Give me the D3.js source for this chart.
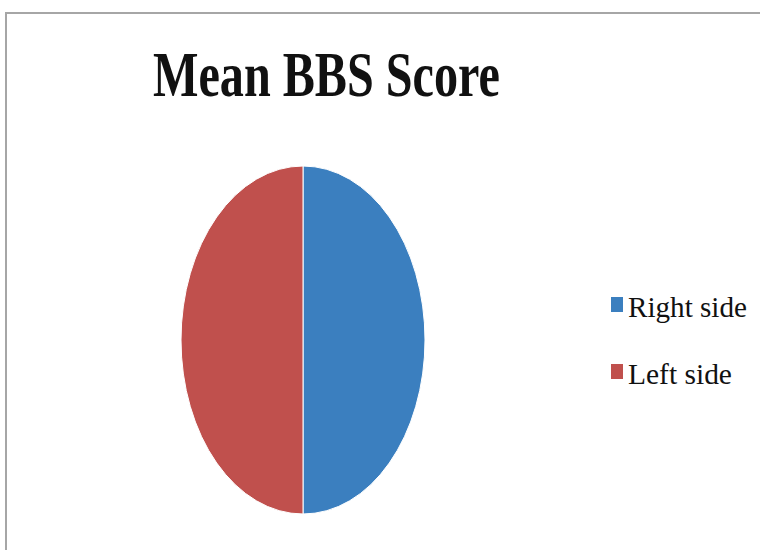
<!DOCTYPE html>
<html>
<head>
<meta charset="utf-8">
<script src="https://cdn.jsdelivr.net/npm/d3@7/dist/d3.min.js"></script>
<style>
  html, body { margin: 0; padding: 0; background: #fff; }
  svg { display: block; }
</style>
</head>
<body>
<svg id="chart" width="760" height="550"></svg>
<script>
// Mean Berg Balance Scale score, split by side
const categories = ["Right side", "Left side"];
const values = [50, 50];
const colors = ["#3b7fbf", "#c0504d"];
const titleText = "Mean BBS Score";

const svg = d3.select("#chart");

// chart frame (only top and left edges fall inside the view)
svg.append("rect")
  .attr("x", 6).attr("y", 13)
  .attr("width", 900).attr("height", 700)
  .attr("fill", "#fff")
  .attr("stroke", "#a6a6a6")
  .attr("stroke-width", 2);

// title, condensed bold serif
const title = svg.append("text")
  .attr("font-family", "Liberation Serif, DejaVu Serif, serif")
  .attr("font-weight", "bold")
  .attr("font-size", 64)
  .attr("fill", "#111")
  .text(titleText);
const tw = title.node().getComputedTextLength();
const titleWidth = 347;
title.attr("transform", `translate(153,96) scale(${titleWidth / tw},1)`);

// elliptical pie
const cx = 303, cy = 340, rx = 122, ry = 174;
const pie = d3.pie().sort(null).value(d => d.value);
const arc = d3.arc().innerRadius(0).outerRadius(1);
const data = categories.map((c, i) => ({ name: c, value: values[i], color: colors[i] }));

const g = svg.append("g")
  .attr("transform", `translate(${cx},${cy}) scale(${rx},${ry})`);
g.selectAll("path")
  .data(pie(data))
  .join("path")
  .attr("d", arc)
  .attr("fill", d => d.data.color)
  .attr("stroke", "#fff")
  .attr("stroke-width", 1)
  .attr("vector-effect", "non-scaling-stroke");

// legend
const legend = svg.append("g");
const items = legend.selectAll("g")
  .data(data)
  .join("g")
  .attr("transform", (d, i) => `translate(611,${297 + i * 67})`);
items.append("rect")
  .attr("width", 12).attr("height", 15)
  .attr("fill", d => d.color);
items.append("text")
  .attr("font-family", "Liberation Serif, DejaVu Serif, serif")
  .attr("font-size", 30)
  .attr("fill", "#111")
  .text(d => d.name)
  .each(function (d) {
    const w = this.getComputedTextLength();
    const target = d.name === "Right side" ? 119 : 104;
    d3.select(this).attr("transform", `translate(17,20) scale(${target / w},1)`);
  });
</script>
</body>
</html>
